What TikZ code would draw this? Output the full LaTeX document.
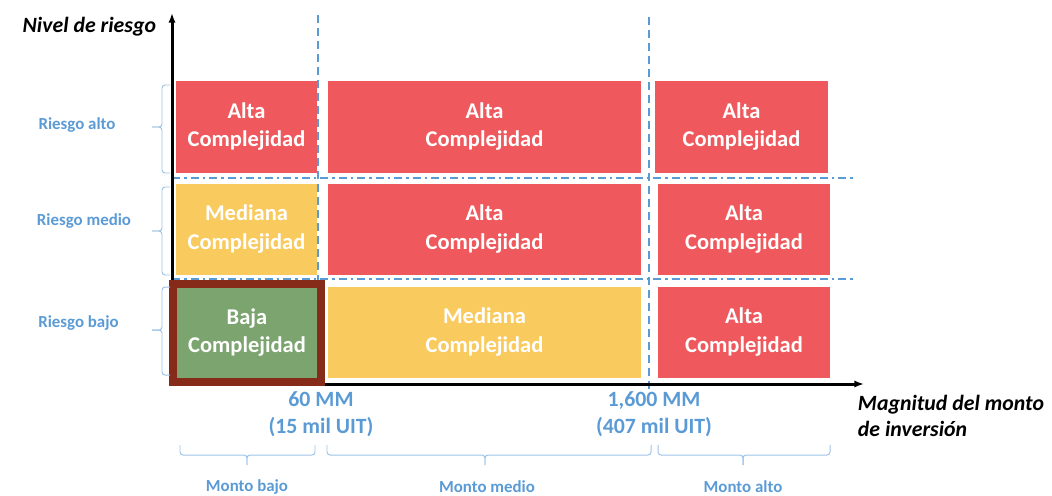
\documentclass[tikz,border=0pt]{standalone}
\usepackage{fontspec}
\setmainfont{Carlito}
\usepackage{xcolor}
\usepackage{tikz}
\usetikzlibrary{arrows.meta}
\definecolor{altared}{HTML}{EF595D}
\definecolor{medyellow}{HTML}{F9CB5E}
\definecolor{bajagreen}{HTML}{7BA46F}
\definecolor{frame}{HTML}{862A1A}
\definecolor{lblblue}{HTML}{5B9BD5}
\definecolor{braceblue}{HTML}{9DC3E6}
\newdimen\px \px=0.025cm
\tikzset{
  cell/.style={rectangle, inner sep=0pt, align=center, text=white,
               font=\fontsize{16}{20}\selectfont\bfseries},
  alta/.style={cell, fill=altared},
  mediana/.style={cell, fill=medyellow},
  baja/.style={cell, fill=bajagreen, draw=frame, line width=8\px},
  axislbl/.style={font=\fontsize{15.5}{19}\selectfont\bfseries\itshape, align=left},
  bluelbl/.style={font=\fontsize{15.5}{19}\selectfont\bfseries, text=lblblue, align=center},
  smalllbl/.style={font=\fontsize{12}{14}\selectfont\bfseries, text=lblblue},
  axisarrow/.style={-{Latex[length=2.4mm]}, line width=3\px},
  vsplit/.style={draw=lblblue, line width=2.6\px, dash pattern=on 8\px off 5\px},
  hsplit/.style={draw=lblblue, line width=2.6\px, dash pattern=on 8\px off 4\px on 2.5\px off 4\px},
  brc/.style={draw=braceblue, line width=0.7pt, rounded corners=3\px}
}
\begin{document}
\begin{tikzpicture}[x=0.025cm, y=-0.025cm]
\useasboundingbox (0,0) rectangle (1052,495);
% split lines
\draw[vsplit] (318,15) -- (318,380);
\draw[vsplit] (649,17) -- (649,392);
\draw[hsplit] (172,178) -- (853,178);
\draw[hsplit] (172,279) -- (853,279);
% axes
\coordinate (o) at (172,384);
\coordinate (ytop) at (172,13);
\coordinate (xend) at (864,384);
\draw[axisarrow] (o) -- (ytop);
\draw[axisarrow] (o) -- (xend);
\node[axislbl, anchor=east] (ylbl) at (161,27) {Nivel de riesgo};
\node[axislbl, anchor=west] (xlbl) at (853,416) {Magnitud del monto\\de inversión};
% cells
\node[alta, minimum width=141\px, minimum height=92\px] (a1) at (246.5,126.5) {Alta\\Complejidad};
\node[alta, minimum width=313\px, minimum height=92\px] (a2) at (484.5,126.5) {Alta\\Complejidad};
\node[alta, minimum width=173\px, minimum height=92\px] (a3) at (741.5,126.5) {Alta\\Complejidad};
\node[mediana, minimum width=141\px, minimum height=91\px] (m1) at (246.5,229) {Mediana\\Complejidad};
\node[alta, minimum width=313\px, minimum height=91\px] (m2) at (484.5,229) {Alta\\Complejidad};
\node[alta, minimum width=172\px, minimum height=91\px] (m3) at (744,229) {Alta\\Complejidad};
\node[mediana, minimum width=313\px, minimum height=91\px] (b2) at (484.5,332) {Mediana\\Complejidad};
\node[alta, minimum width=172\px, minimum height=91\px] (b3) at (744,332) {Alta\\Complejidad};
\node[baja, minimum width=148\px, minimum height=98\px] (b1) at (247,332.5) {Baja\\Complejidad};
% thresholds
\node[bluelbl] (t1) at (321,414) {60 MM\\(15 mil UIT)};
\node[bluelbl] (t2) at (654,414) {1,600 MM\\(407 mil UIT)};
% risk braces
\draw[brc] (170,85) -- (162,85) -- (162,127) -- (152,127);
\draw[brc] (152,127) -- (162,127) -- (162,173) -- (170,173);
\draw[brc] (170,187) -- (162,187) -- (162,231) -- (152,231);
\draw[brc] (152,231) -- (162,231) -- (162,275) -- (170,275);
\draw[brc] (170,287) -- (162,287) -- (162,330) -- (152,330);
\draw[brc] (152,330) -- (162,330) -- (162,375) -- (170,375);
\node[smalllbl] (ralto) at (77,125) {Riesgo alto};
\node[smalllbl] (rmedio) at (84,221) {Riesgo medio};
\node[smalllbl] (rbajo) at (78.5,323) {Riesgo bajo};
% amount braces
\draw[brc] (180,445) -- (180,455) -- (247,455) -- (247,465);
\draw[brc] (247,465) -- (247,455) -- (315,455) -- (315,445);
\draw[brc] (327,445) -- (327,455) -- (485,455) -- (485,465);
\draw[brc] (485,465) -- (485,455) -- (651,455) -- (651,445);
\draw[brc] (658,445) -- (658,455) -- (743,455) -- (743,465);
\draw[brc] (743,465) -- (743,455) -- (830,455) -- (830,445);
\node[smalllbl] (mbajo) at (247,487) {Monto bajo};
\node[smalllbl] (mmedio) at (487,487) {Monto medio};
\node[smalllbl] (malto) at (743,487) {Monto alto};
\end{tikzpicture}
\end{document}
